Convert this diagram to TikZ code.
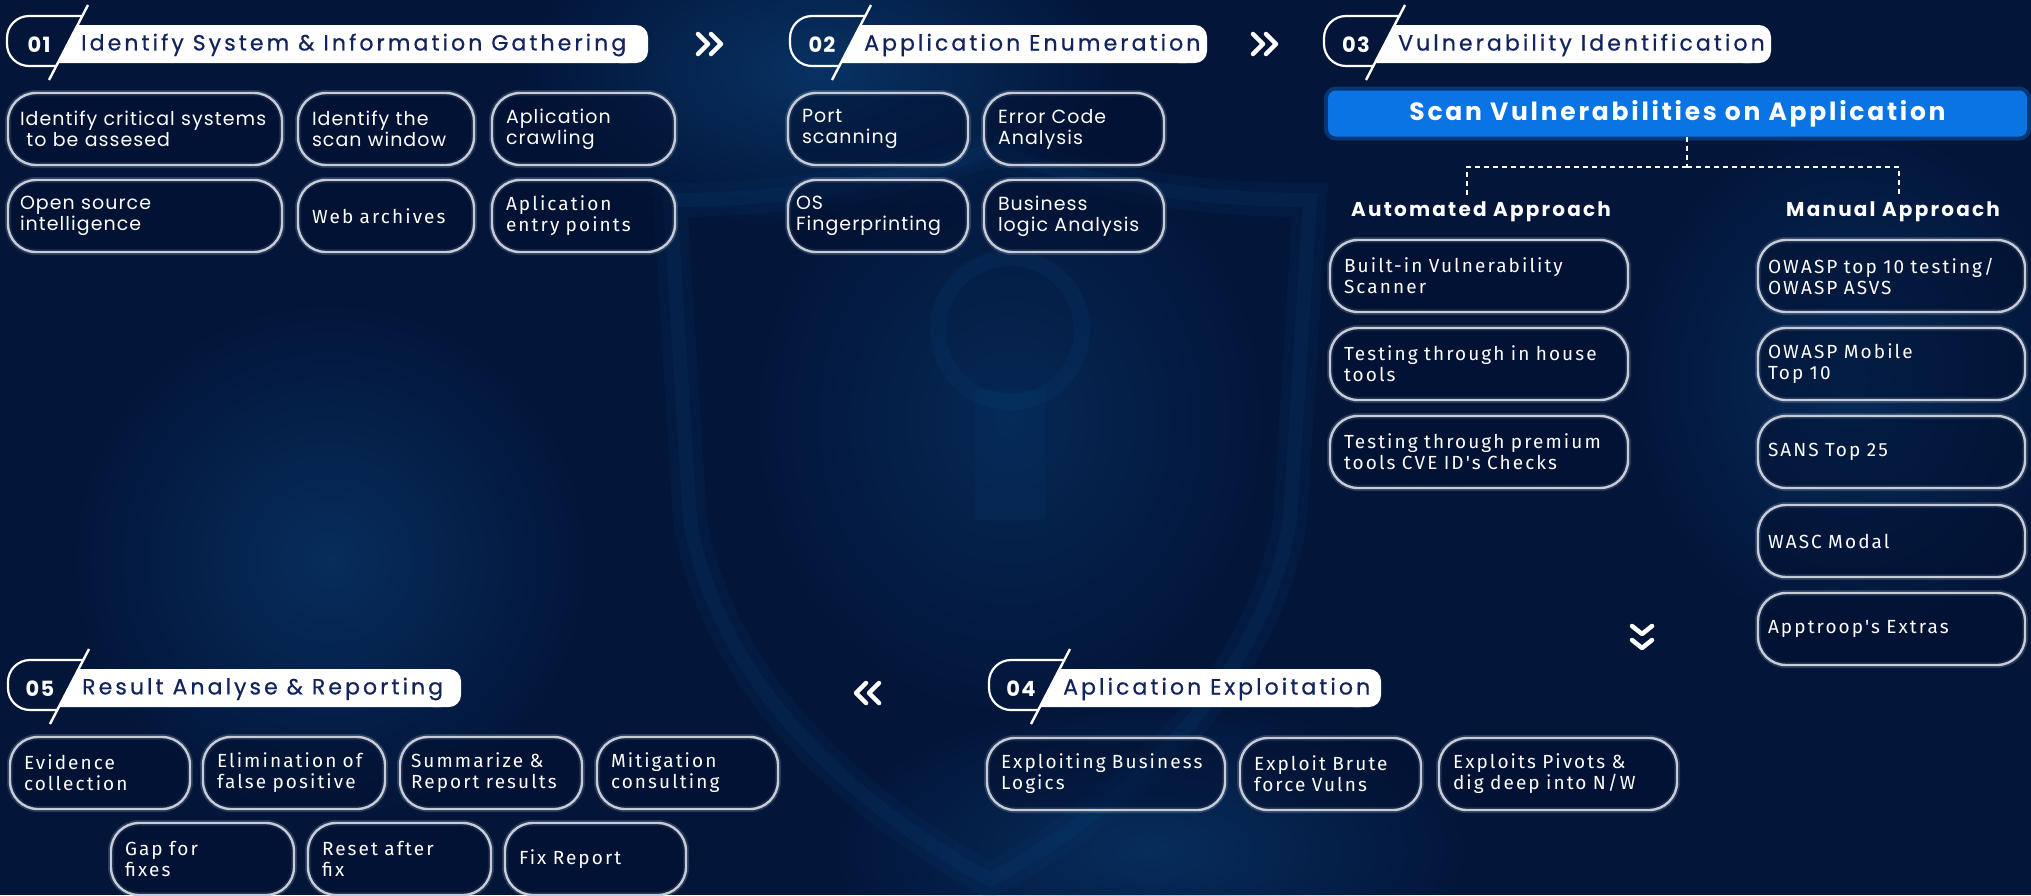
\documentclass[tikz,border=0pt]{standalone}
\usepackage{fontspec}
\setmainfont{Poppins}
\newfontfamily\headfont{Poppins}[LetterSpace=14, FakeBold=0.6]
\newfontfamily\numfont{Poppins}[LetterSpace=6]
\newfontfamily\barfont{Poppins}[LetterSpace=11]
\newfontfamily\boxfont{Poppins}[LetterSpace=5.5]
\newfontfamily\dinfont{Fira Sans}[LetterSpace=11]
\usetikzlibrary{positioning,fadings}
\tikzfading[name=glowfade, inner color=transparent!0, outer color=transparent!100]
\definecolor{bgnavy}{HTML}{03163A}
\definecolor{boxfill}{HTML}{020F2E}
\definecolor{glowblue}{HTML}{0C4A86}
\definecolor{headnavy}{HTML}{12235E}
\definecolor{scanblue}{HTML}{0A74E4}
\definecolor{boxline}{HTML}{C5CCD8}
\begin{document}
\begin{tikzpicture}[x=1pt, y=-1pt,
    box/.style={draw=boxline, line width=2.4pt, rounded corners=28pt, fill=boxfill, fill opacity=0.45, text opacity=1,
        text=white, align=left, text width=#1, inner xsep=14pt, inner ysep=0pt, minimum height=72pt, outer sep=0pt,
        anchor=north west, font=\boxfont\fontsize{19pt}{21pt}\selectfont,
        preaction={draw=white, draw opacity=0.15, line width=6pt}},
    dinbox/.style={box=#1, font=\dinfont\fontsize{19pt}{21pt}\selectfont},
    manbox/.style={dinbox=#1, inner xsep=10pt},
    approach/.style={text=white, font=\barfont\bfseries\fontsize{20pt}{20pt}\selectfont},
    dashline/.style={draw=white!85, dash pattern=on 5pt off 4pt, line width=1.4pt},
    chev/.style={draw=white, line width=4.5pt, line cap=round, line join=round},
    glow/.style={fill=glowblue, path fading=glowfade, fill opacity=#1},
    pics/stephead/.style n args={3}{code={
        \fill[white] (70.6,-19) -- (#3-20,-19) -- (#3-20,19) -- (50.8,19) -- cycle;
        \fill[white, rounded corners=12pt] (#3-40,-19) rectangle (#3,19);
        \draw[white, line width=2.2pt, rounded corners=22pt] (75.3,-28) -- (0,-28) -- (0,22) -- (49.3,22);
        \draw[white, line width=2.4pt] (81,-39) -- (42,36);
        \node[text=white, inner sep=0pt, font=\numfont\bfseries\fontsize{21pt}{21pt}\selectfont] (-num) at (32,1) {#1};
        \node[anchor=west, text=headnavy, inner sep=0pt, font=\headfont\fontsize{22pt}{22pt}\selectfont] (-title) at (74,1) {#2};
    }}]

    % background
    \fill[bgnavy] (0,0) rectangle (2031,895);
    \useasboundingbox (0,0) rectangle (2031,895);
    \fill[glow=0.55] (820,70) ellipse [x radius=300pt, y radius=160pt];
    \fill[glow=0.45] (330,560) ellipse [x radius=260pt, y radius=260pt];
    \fill[glow=0.40] (1850,380) ellipse [x radius=220pt, y radius=260pt];
    \fill[glow=0.45] (1150,850) ellipse [x radius=320pt, y radius=150pt];
    \fill[glow=0.35] (1010,420) ellipse [x radius=260pt, y radius=300pt];
    \draw[glowblue, line width=34pt, opacity=0.10] (990,150) .. controls (870,190) and (760,200) .. (670,200) -- (690,520) .. controls (720,700) and (880,820) .. (990,880) .. controls (1100,820) and (1260,700) .. (1290,520) -- (1310,200) .. controls (1220,200) and (1110,190) .. (990,150);
    \draw[glowblue, line width=14pt, opacity=0.14] (990,150) .. controls (870,190) and (760,200) .. (670,200) -- (690,520) .. controls (720,700) and (880,820) .. (990,880) .. controls (1100,820) and (1260,700) .. (1290,520) -- (1310,200) .. controls (1220,200) and (1110,190) .. (990,150);
    \draw[glowblue, line width=16pt, opacity=0.14] (1010,330) circle [radius=72pt];
    \fill[glowblue, opacity=0.10] (975,390) rectangle (1045,520);

    % step headers
    \pic (h1) at (7,44) {stephead={01}{Identify System \& Information Gathering}{641}};
    \pic (h2) at (790,44) {stephead={02}{Application Enumeration}{417}};
    \pic (h3) at (1324,44) {stephead={03}{Vulnerability Identification}{447}};
    \pic (h4) at (989,688) {stephead={04}{Aplication Exploitation}{392}};
    \pic (h5) at (8,688) {stephead={05}{Result Analyse \& Reporting}{453}};

    % chevrons between steps
    \draw[chev] (698,34) -- (708,44) -- (698,54);
    \draw[chev] (711,34) -- (721,44) -- (711,54);
    \draw[chev] (1253,34) -- (1263,44) -- (1253,54);
    \draw[chev] (1266,34) -- (1276,44) -- (1266,54);
    \draw[chev] (1632,626) -- (1642,634) -- (1652,626);
    \draw[chev] (1632,640) -- (1642,648) -- (1652,640);
    \draw[chev] (866,683) -- (856,693) -- (866,703);
    \draw[chev] (879,683) -- (869,693) -- (879,703);

    % 01
    \node[box=250pt, inner xsep=12pt] (s11) at (8,93) {Identify critical systems\\\ to be assesed};
    \node[box=148pt] (s12) at (298,93) {Identify the\\scan window};
    \node[box=155pt] (s13) at (492,93) {Aplication\\crawling};
    \node[box=250pt, inner xsep=12pt] (s14) at (8,180) {Open source\\intelligence};
    \node[dinbox=148pt] (s15) at (298,180) {Web archives};
    \node[dinbox=155pt] (s16) at (492,180) {Aplication\\entry points};

    % 02
    \node[box=152pt] (s21) at (788,93) {Port\\scanning};
    \node[box=152pt] (s22) at (984,93) {Error Code\\Analysis};
    \node[box=164pt, inner xsep=8pt] (s23) at (788,180) {OS\\Fingerprinting};
    \node[box=152pt] (s24) at (984,180) {Business\\logic Analysis};

    % 03
    \node[fill=scanblue, rounded corners=8pt, minimum width=699pt, minimum height=46pt, text=white,
        font=\barfont\bfseries\fontsize{25pt}{25pt}\selectfont,
        preaction={draw=scanblue, draw opacity=0.35, line width=8pt}] (scan) at (1677.5,113.5) {Scan Vulnerabilities on Application};
    \coordinate (fork) at (1687,167);
    \coordinate (autoDrop) at (1467,195);
    \coordinate (manDrop) at (1899,195);
    \draw[dashline] (scan.south -| fork) -- (fork);
    \draw[dashline] (fork) -| (autoDrop);
    \draw[dashline] (fork) -| (manDrop);
    \node[approach] (auto) at (1481,212) {Automated Approach};
    \node[approach] (manual) at (1893,212) {Manual Approach};

    \node[dinbox=270pt] (a1) at (1330,240) {Built-in Vulnerability\\Scanner};
    \node[dinbox=270pt] (a2) at (1330,328) {Testing through in house\\tools};
    \node[dinbox=270pt] (a3) at (1330,416) {Testing through premium\\tools CVE ID's Checks};

    \node[manbox=247pt] (m1) at (1758,240) {OWASP top 10 testing/\\OWASP ASVS};
    \node[manbox=247pt] (m2) at (1758,328) {OWASP Mobile\\Top 10};
    \node[manbox=247pt] (m3) at (1758,416) {SANS Top 25};
    \node[manbox=247pt] (m4) at (1758,505) {WASC Modal};
    \node[manbox=247pt] (m5) at (1758,593) {Apptroop's Extras};

    % 04
    \node[dinbox=210pt] (s41) at (987,738) {Exploiting Business\\Logics};
    \node[dinbox=153pt] (s42) at (1240,738) {Exploit Brute\\force Vulns};
    \node[dinbox=210pt] (s43) at (1439,738) {Exploits Pivots \&\\dig deep into N/W};

    % 05
    \node[dinbox=152pt] (s51) at (10,737) {Evidence\\collection};
    \node[dinbox=154pt] (s52) at (203,737) {Elimination of\\false positive};
    \node[dinbox=160pt, inner xsep=11pt] (s53) at (400,737) {Summarize \&\\Report results};
    \node[dinbox=153pt] (s54) at (597,737) {Mitigation\\consulting};
    \node[dinbox=155pt] (s55) at (111,823) {Gap for\\fixes};
    \node[dinbox=155pt] (s56) at (308,823) {Reset after\\fix};
    \node[dinbox=153pt] (s57) at (505,823) {Fix Report};
\end{tikzpicture}
\end{document}
